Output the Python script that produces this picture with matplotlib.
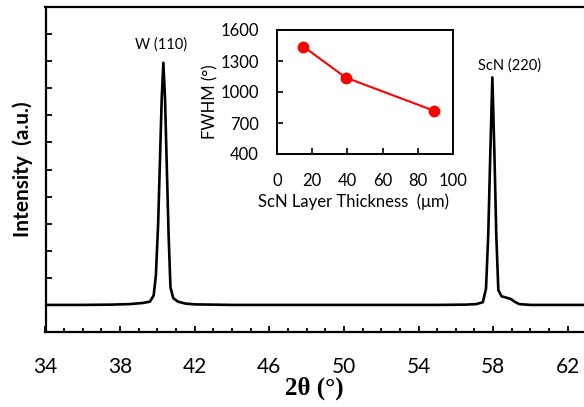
import matplotlib
matplotlib.use("Agg")
import matplotlib.pyplot as plt
from matplotlib.ticker import MultipleLocator

plt.rcParams['font.family'] = ['Lato', 'DejaVu Sans']

# ---- main XRD pattern (2theta in degrees, intensity in arb. units) ----
two_theta = [34.0, 36.0, 37.5, 38.5, 39.2, 39.6, 39.8, 39.92, 40.04, 40.14, 40.23,
             40.32, 40.41, 40.5, 40.6, 40.7, 40.85, 41.1, 41.5, 42.0, 44.0,
             48.0, 52.0, 55.0, 56.5, 57.1, 57.45, 57.62, 57.74, 57.85, 57.96,
             58.07, 58.17, 58.28, 58.45, 58.7, 58.95, 59.15, 59.4, 60.0, 62.0, 63.0]
intensity = [1.00, 1.00, 1.01, 1.03, 1.07, 1.12, 1.35, 2.1, 4.0, 6.4, 8.6,
             9.94, 8.6, 6.2, 3.6, 1.65, 1.25, 1.12, 1.05, 1.02, 1.00,
             1.00, 1.00, 1.00, 1.01, 1.03, 1.10, 1.6, 3.6, 6.6, 9.40,
             6.6, 3.6, 1.55, 1.32, 1.27, 1.22, 1.12, 1.03, 1.00, 1.00, 1.00]

peak_labels = ["W (110)", "ScN (220)"]
peak_label_x = [40.22, 58.9]
peak_label_y = [10.6, 9.85]

x_ticks = [34, 38, 42, 46, 50, 54, 58, 62]

# ---- inset: FWHM vs ScN layer thickness ----
thickness = [15, 39, 89]
fwhm = [1440, 1140, 820]

fig = plt.figure(figsize=(5.84, 4.07), dpi=100)
W, H = 584, 407

def rect(l, t, r, b):
    return [l / W, (H - b) / H, (r - l) / W, (b - t) / H]

ax = fig.add_axes(rect(45.5, 7, 584, 332))
ax.plot(two_theta, intensity, color='black', lw=1.9, solid_joinstyle='round')
ax.set_xlim(34, 34 + (584 - 45.5) / 18.65)
ax.set_ylim(0, 12)
ax.spines['right'].set_visible(False)
for s in ['left', 'top', 'bottom']:
    ax.spines[s].set_linewidth(1.6)
ax.set_xticks(x_ticks)
ax.xaxis.set_minor_locator(MultipleLocator(1))
ax.yaxis.set_major_locator(MultipleLocator(1))
ax.tick_params(axis='x', which='major', direction='in', length=4.5, width=1.3,
               labelsize=15, pad=18)
ax.tick_params(axis='x', which='minor', direction='in', length=3.0, width=1.3)
ax.tick_params(axis='y', which='major', direction='in', length=4.5, width=1.3,
               labelleft=False)
ax.set_xlabel("2θ (°)", family='Liberation Serif', fontweight='bold', fontsize=18,
              labelpad=0)
ax.set_ylabel("Intensity  (a.u.)", fontweight='bold', fontsize=15)
ax.yaxis.set_label_coords(-0.024, 0.5)
for txt, xx, yy in zip(peak_labels, peak_label_x, peak_label_y):
    ax.text(xx, yy, txt, ha='center', va='center', fontsize=10.5)

# inset
axi = fig.add_axes(rect(277, 30, 453, 154))
axi.plot(thickness, fwhm, color='red', lw=1.5, marker='o', markersize=7.5)
axi.set_xlim(0, 100)
axi.set_ylim(400, 1600)
axi.set_xticks([0, 20, 40, 60, 80, 100])
axi.set_yticks([400, 700, 1000, 1300, 1600])
for s in axi.spines.values():
    s.set_linewidth(1.4)
axi.tick_params(direction='in', length=4, width=1.2, labelsize=12)
axi.tick_params(axis='x', pad=14)
axi.tick_params(axis='y', pad=13)
axi.set_xlabel("ScN Layer Thickness  (μm)", fontsize=12)
axi.xaxis.set_label_coords((353 - 277) / (453 - 277), -0.32)
axi.set_ylabel("FWHM (°)", fontsize=12)
axi.yaxis.set_label_coords(-0.335, 0.42)

fig.savefig("out.png", dpi=100)
